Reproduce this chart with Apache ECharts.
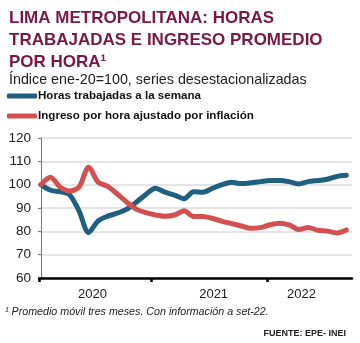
<!DOCTYPE html>
<html><head><meta charset="utf-8">
<script src="https://cdn.jsdelivr.net/npm/echarts@6/dist/echarts.min.js"></script>
<style>html,body{margin:0;padding:0;background:#fff}#c{width:360px;height:343px}</style>
</head><body><div id="c"></div>
<script>
const months = ['ene-20','feb-20','mar-20','abr-20','may-20','jun-20','jul-20','ago-20','set-20','oct-20','nov-20','dic-20',
  'ene-21','feb-21','mar-21','abr-21','may-21','jun-21','jul-21','ago-21','set-21','oct-21','nov-21','dic-21',
  'ene-22','feb-22','mar-22','abr-22','may-22','jun-22','jul-22','ago-22','set-22'];
const horas = [100,97.6,97,95.7,88.7,79.5,84.5,86.5,87.8,89.5,92.5,95.8,
  98.5,96.8,95.5,94,97,96.8,98.5,100,101,100.5,100.8,101.3,
  101.8,101.8,101.3,100.3,101.3,101.8,102.3,103.5,104];
const ingreso = [100,103.2,99,97.3,99,107.5,101,99.3,96,92.5,89.5,88,
  87,86.5,87,88.8,86.4,86.4,85.5,84.3,83.3,82.3,81.3,81.6,
  82.8,83.5,82.8,80.8,81.6,80.5,80.1,79.3,80.6];
const yearLabels = ['2020','2021','2022'];
const yearLabelAt = [5.4, 18.1, 27.3];
const yearTickAt = [-0.2, 11.6, 23.7];
const seriesNames = ['Horas trabajadas a la semana','Ingreso por hora ajustado por inflación'];

const chart = echarts.init(document.getElementById('c'), null, {renderer:'canvas'});
const pairs = arr => arr.map((v,i)=>[i,v]);
chart.setOption({
  animation:false,
  textStyle:{fontFamily:'Liberation Sans, Arial, sans-serif'},
  title:{
    text:'LIMA METROPOLITANA: HORAS\nTRABAJADAS E INGRESO PROMEDIO\nPOR HORA¹',
    left:4, top:2,
    textStyle:{fontSize:17, fontWeight:'bold', color:'#7b1745', lineHeight:22, fontFamily:'Liberation Sans, Arial, sans-serif'},
    subtext:'Índice ene-20=100, series desestacionalizadas',
    subtextStyle:{fontSize:14.3, color:'#222', fontFamily:'Liberation Sans, Arial, sans-serif'},
    itemGap:0
  },
  legend:{
    orient:'vertical', left:7, top:90, itemGap:8, padding:0,
    itemWidth:30, itemHeight:5, icon:'roundRect',
    textStyle:{fontSize:11.6, fontWeight:'bold', color:'#111', padding:[0,0,0,-4]},
    data:seriesNames
  },
  grid:{left:39, right:8, top:138, bottom:65, containLabel:false},
  xAxis:{
    type:'value', min:-0.2, max:32.6,
    axisLine:{show:true, lineStyle:{color:'#000', width:2.5}},
    axisTick:{show:true, customValues:yearTickAt, length:4, lineStyle:{color:'#000', width:2.5}},
    axisLabel:{customValues:yearLabelAt, formatter:v=>{const k=yearLabelAt.findIndex(p=>Math.abs(p-v)<0.01);return k>=0?yearLabels[k]:'';}, fontSize:13, color:'#222', margin:10},
    splitLine:{show:false}
  },
  yAxis:{
    type:'value', min:60, max:120, interval:10,
    axisLine:{show:true, lineStyle:{color:'#777', width:1}},
    axisTick:{show:true, length:3, lineStyle:{color:'#777'}},
    axisLabel:{fontSize:13.5, color:'#222', margin:8},
    splitLine:{show:true, lineStyle:{color:'#dcdcdc', width:1.5}}
  },
  series:[
    {name:seriesNames[0], type:'line', data:pairs(horas), showSymbol:false, smooth:0.3,
     lineStyle:{color:'#1f5f7f', width:5, cap:'round', join:'round'}, itemStyle:{color:'#1f5f7f'}, z:2},
    {name:seriesNames[1], type:'line', data:pairs(ingreso), showSymbol:false, smooth:0.3,
     lineStyle:{color:'#d44f50', width:5, cap:'round', join:'round'}, itemStyle:{color:'#d44f50'}, z:3}
  ],
  graphic:[
    {type:'text', left:5, top:307, style:{text:'¹ Promedio móvil tres meses. Con información a set-22.', fontSize:10.7, fontStyle:'italic', fill:'#222', fontFamily:'Liberation Sans, Arial, sans-serif'}},
    {type:'text', right:14, top:329, style:{text:'FUENTE: EPE- INEI', fontSize:9, fontWeight:'bold', fill:'#222', fontFamily:'Liberation Sans, Arial, sans-serif'}}
  ]
});
</script></body></html>
